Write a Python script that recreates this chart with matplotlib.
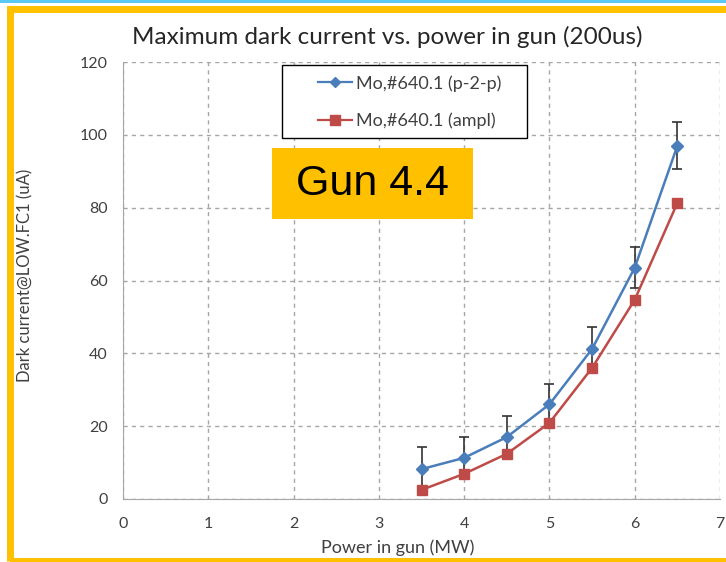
import numpy as np
import matplotlib.pyplot as plt
from matplotlib.patches import Rectangle
from matplotlib.lines import Line2D

plt.rcParams['font.family'] = ['Lato', 'DejaVu Sans']

power = [3.5, 4.0, 4.5, 5.0, 5.5, 6.0, 6.5]
p2p = [8.2, 11.3, 17.0, 26.0, 41.2, 63.5, 97.0]
p2p_err = [6.0, 5.6, 5.8, 5.5, 6.0, 5.6, 6.4]
ampl = [2.5, 6.9, 12.4, 20.9, 36.0, 54.7, 81.3]

x_ticks = [0, 1, 2, 3, 4, 5, 6, 7]
y_ticks = [0, 20, 40, 60, 80, 100, 120]

blue = '#4a7ebb'
red = '#be4b48'
gold = '#ffc000'
txt = '#404040'

W, H = 726, 562
fig = plt.figure(figsize=(W/100, H/100), dpi=100)

# page decoration: thin blue rule and gold frame
fig.add_artist(Rectangle((0, 1 - 2.5/H), 1, 2.5/H, transform=fig.transFigure,
                         color='#5ac8f5', lw=0))
fig.add_artist(Rectangle((10/W, 1.5/H), 2, 1 - 10/H, transform=fig.transFigure,
                         fill=False, ec=gold, lw=5))

ax = fig.add_axes([123/W, 63/H, 597/W, 437/H])
ax.set_xlim(0, 7)
ax.set_ylim(0, 120)
ax.set_xticks(x_ticks)
ax.set_yticks(y_ticks)
ax.grid(True, ls=(0, (3, 3)), color='#a6a6a6', lw=1)
for s in ['top', 'right']:
    ax.spines[s].set_visible(False)
for s in ['left', 'bottom']:
    ax.spines[s].set_color('#a6a6a6')
ax.tick_params(length=0, labelsize=11.5, labelcolor=txt)
ax.tick_params(axis='x', pad=13)
ax.tick_params(axis='y', pad=11)

ax.errorbar(power, p2p, yerr=p2p_err, color=blue, marker='D', ms=6, lw=1.8,
            ecolor='#333333', elinewidth=1.2, capsize=3.5, capthick=1.2, zorder=3)
ax.plot(power, ampl, color=red, marker='s', ms=7, lw=1.8, zorder=3)

fig.text(387/W, 1 - 37/H, 'Maximum dark current vs. power in gun (200us)',
         fontsize=17.5, color='#262626', ha='center', va='center')
fig.text(398/W, 1 - 548/H, 'Power in gun (MW)', fontsize=13, color=txt,
         ha='center', va='center')
fig.text(25/W, 1 - 275/H, 'Dark current@LOW.FC1 (uA)', fontsize=12, color=txt,
         ha='center', va='center', rotation=90)

# legend: box drawn separately so the entries can sit off-centre
ax.add_patch(Rectangle(((282 - 123)/597, (499 - 138)/437), 245/597, 73/437,
                       transform=ax.transAxes, fc='white', ec='black', lw=1,
                       zorder=4, clip_on=False))
handles = [Line2D([], [], color=blue, marker='D', ms=5, lw=1.6),
           Line2D([], [], color=red, marker='s', ms=6.5, lw=1.6)]
leg = ax.legend(handles, ['Mo,#640.1 (p-2-p)', 'Mo,#640.1 (ampl)'],
                loc='upper left', bbox_to_anchor=((318 - 123)/597, (499 - 75)/437),
                fontsize=13, frameon=False, handlelength=1.9, handletextpad=0.2,
                labelspacing=1.17, borderpad=0, borderaxespad=0)
leg.set_zorder(5)
for t in leg.get_texts():
    t.set_color(txt)

# gold label box
fig.add_artist(Rectangle((272/W, 1 - 219/H), 201/W, 71/H, transform=fig.transFigure,
                         color=gold, lw=0, zorder=5))
fig.text(372/W, 1 - 184/H, 'Gun 4.4', fontsize=31, family='Liberation Sans',
         ha='center', va='center', zorder=6)

fig.savefig('out.png', dpi=100)
